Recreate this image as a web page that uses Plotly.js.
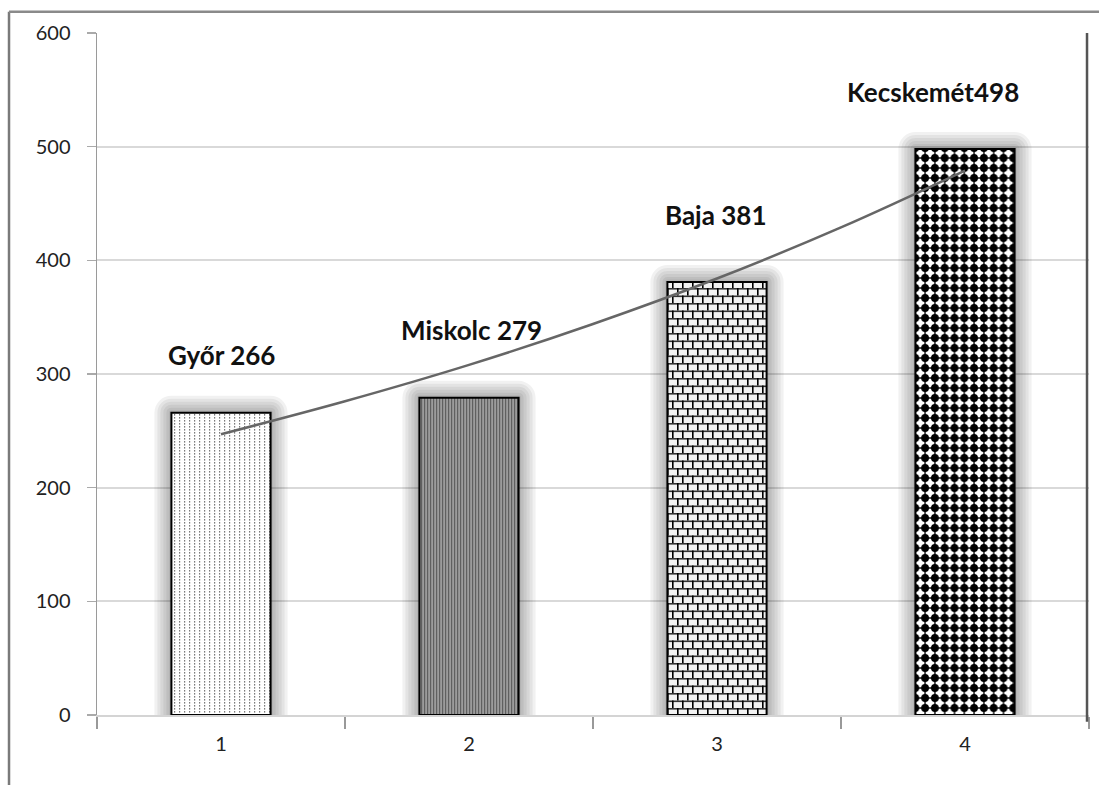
<!DOCTYPE html>
<html>
<head>
<meta charset="utf-8">
<script src="https://cdn.plot.ly/plotly-3.0.1.min.js"></script>
<style>
  html, body { margin: 0; padding: 0; background: #fff; }
  #chart { width: 1099px; height: 785px; }
</style>
</head>
<body>
<div id="chart"></div>
<script>
// Data
const positions = [1, 2, 3, 4];
const cities = ["Győr", "Miskolc", "Baja", "Kecskemét"];
const values = [266, 279, 381, 498];
const labels = ["Győr 266", "Miskolc 279", "Baja 381", "Kecskemét498"];
const trendX = [1, 1.5, 2, 2.5, 3, 3.5, 4];
const trendY = [247, 276, 308, 344, 384, 429, 479];
const yTicks = [0, 100, 200, 300, 400, 500, 600];

// Base Plotly patterns (refined with custom SVG patterns after render)
const patterns = [
  {shape: ".", fgcolor: "#8a8a8a", bgcolor: "#ffffff", size: 4, solidity: 0.25},
  {shape: "|", fgcolor: "#6a6a6a", bgcolor: "#959595", size: 3, solidity: 0.35},
  {shape: "+", fgcolor: "#000000", bgcolor: "#ffffff", size: 8, solidity: 0.22},
  {shape: ".", fgcolor: "#000000", bgcolor: "#ffffff", size: 10, solidity: 0.55}
];

const barTraces = positions.map((p, i) => ({
  type: "bar",
  x: [p],
  y: [values[i]],
  width: 0.4,
  name: cities[i],
  marker: {
    color: patterns[i].bgcolor,
    line: {color: "#000", width: 2},
    pattern: patterns[i]
  },
  hoverinfo: "x+y"
}));

const trend = {
  type: "scatter",
  mode: "lines",
  x: trendX,
  y: trendY,
  line: {color: "#666666", width: 2.5, shape: "spline"},
  hoverinfo: "skip"
};

const lblShift = [
  {xs: 0, ys: 58},
  {xs: 2, ys: 68},
  {xs: -2, ys: 67},
  {xs: -32, ys: 57}
];

const annotations = positions.map((p, i) => ({
  x: p, y: values[i], xref: "x", yref: "y",
  text: labels[i], showarrow: false,
  xshift: lblShift[i].xs, yshift: lblShift[i].ys,
  font: {family: "Lato, 'Open Sans', sans-serif", size: 26, color: "#111", weight: "bold"}
}));

const tickFont = {family: "Lato, 'Open Sans', sans-serif", size: 20, color: "#222"};

const layout = {
  width: 1099, height: 785,
  margin: {l: 97, r: 10, t: 33, b: 70},
  paper_bgcolor: "#fff", plot_bgcolor: "#fff",
  showlegend: false,
  bargap: 0,
  xaxis: {
    range: [0.5, 4.5],
    tickvals: positions,
    ticktext: positions.map(String),
    ticks: "",
    showgrid: false,
    zeroline: false,
    showline: true, linecolor: "#d4d4d4", linewidth: 2,
    tickfont: tickFont,
    ticklabelstandoff: 10,
    minor: {tickvals: [0.5, 1.5, 2.5, 3.5, 4.5], ticks: "outside", ticklen: 12, tickcolor: "#999", tickwidth: 2, showgrid: false},
    fixedrange: true
  },
  yaxis: {
    range: [0, 600],
    tickvals: yTicks,
    ticks: "outside", ticklen: 9, tickcolor: "#aaa", tickwidth: 1.5,
    showgrid: true, gridcolor: "#d9d9d9", gridwidth: 2,
    zeroline: false,
    showline: true, linecolor: "#9a9a9a", linewidth: 1.5,
    tickfont: tickFont,
    ticklabelstandoff: 12,
    fixedrange: true
  },
  shapes: [
    {type: "line", xref: "paper", yref: "paper", x0: -0.0887, x1: -0.0887, y0: 1.031, y1: -0.11, line: {color: "#7a7a7a", width: 2.5}},
    {type: "line", xref: "paper", yref: "paper", x0: -0.0887, x1: 1.02, y0: 1.031, y1: 1.031, line: {color: "#8a8a8a", width: 2.5}},
    {type: "line", xref: "paper", yref: "paper", x0: 0.998, x1: 0.998, y0: 1.0, y1: -0.01, line: {color: "#555", width: 2.5}}
  ],
  annotations: annotations
};

const NS = "http://www.w3.org/2000/svg";
function el(tag, attrs, parent) {
  const e = document.createElementNS(NS, tag);
  for (const k in attrs) e.setAttribute(k, attrs[k]);
  if (parent) parent.appendChild(e);
  return e;
}

function addDefs(svg) {
  let defs = svg.querySelector("defs");
  if (!defs) defs = el("defs", {}, svg);

  // 1: vertical dotted lines
  const p1 = el("pattern", {id: "patDots", width: 5, height: 3, patternUnits: "userSpaceOnUse"}, defs);
  el("rect", {width: 5, height: 3, fill: "#ffffff"}, p1);
  el("rect", {x: 2, y: 0, width: 1.2, height: 1.6, fill: "#7a7a7a"}, p1);

  // 2: fine vertical lines on grey
  const p2 = el("pattern", {id: "patFine", width: 3, height: 3, patternUnits: "userSpaceOnUse"}, defs);
  el("rect", {width: 3, height: 3, fill: "#9c9c9c"}, p2);
  el("rect", {x: 0, y: 0, width: 1.2, height: 3, fill: "#606060"}, p2);

  // 3: bricks
  const p3 = el("pattern", {id: "patBrick", width: 10, height: 15, patternUnits: "userSpaceOnUse"}, defs);
  el("rect", {width: 10, height: 15, fill: "#f2f2f2"}, p3);
  el("rect", {x: 0, y: 0, width: 10, height: 1.6, fill: "#333"}, p3);
  el("rect", {x: 0, y: 7.5, width: 10, height: 1.6, fill: "#333"}, p3);
  el("rect", {x: 0, y: 0, width: 1.6, height: 7.5, fill: "#000"}, p3);
  el("rect", {x: 5, y: 7.5, width: 1.6, height: 7.5, fill: "#000"}, p3);

  // 4: large black dots
  const p4 = el("pattern", {id: "patBigDots", width: 9.8, height: 10, patternUnits: "userSpaceOnUse"}, defs);
  el("rect", {width: 9.8, height: 10, fill: "#ffffff"}, p4);
  el("circle", {cx: 4.9, cy: 5, r: 3.9, fill: "#000"}, p4);
  el("rect", {x: 4.2, y: 0, width: 1.4, height: 10, fill: "#000"}, p4);
  el("rect", {x: 0, y: 4.3, width: 9.8, height: 1.4, fill: "#000"}, p4);
}

Plotly.newPlot("chart", [...barTraces, trend], layout, {displayModeBar: false, staticPlot: true}).then(gd => {
  const svg = gd.querySelector(".main-svg");
  addDefs(svg);
  const ids = ["patDots", "patFine", "patBrick", "patBigDots"];
  const glowWidths = [34, 28, 22, 16, 10, 5];
  const traces = gd.querySelectorAll(".barlayer .trace");
  traces.forEach((t, i) => {
    t.querySelectorAll(".point path").forEach(p => {
      p.style.fill = "url(#" + ids[i] + ")";
      glowWidths.forEach(w => {
        const c = p.cloneNode(false);
        c.style.fill = "none";
        c.style.stroke = "#000";
        c.style.strokeOpacity = "0.055";
        c.style.strokeWidth = w + "px";
        c.style.strokeLinejoin = "round";
        p.parentNode.insertBefore(c, p);
      });
    });
  });
});
</script>
</body>
</html>
